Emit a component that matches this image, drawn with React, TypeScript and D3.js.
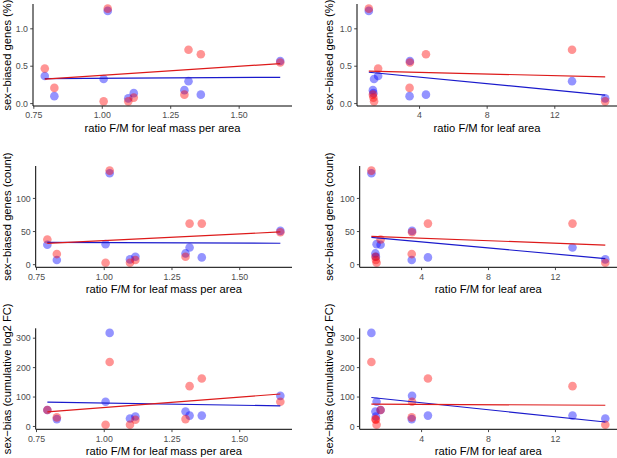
import React from 'react'
import * as d3 from 'd3'

// one entry per species, same order in every array
const lmaRatio = [0.79, 0.825, 1.005, 1.02, 1.095, 1.115, 1.30, 1.315, 1.36, 1.65]
const areaRatio = [1.55, 3.41, 1.31, 1.0, 14.98, 1.27, 1.24, 13.02, 4.38, 3.43]

const pctRed = [0.47, 0.21, 0.03, 1.27, 0.03, 0.08, 0.12, 0.72, 0.66, 0.55]
const pctBlue = [0.37, 0.10, 0.33, 1.24, 0.07, 0.14, 0.18, 0.30, 0.12, 0.57]
const countRed = [38, 16, 3, 142, 3, 7, 12, 62, 62, 49]
const countBlue = [30, 7, 31, 138, 8, 12, 17, 26, 11, 51]
const fcRed = [56, 31, 6, 219, 6, 23, 25, 137, 163, 84]
const fcBlue = [56, 25, 84, 318, 27, 34, 51, 37, 37, 104]

const lmaTicks = [0.75, 1.0, 1.25, 1.5]
const areaTicks = [4, 8, 12]
const pctTicks = [0, 0.5, 1.0]
const countTicks = [0, 50, 100]
const fcTicks = [0, 100, 200, 300]

const lmaLabel = 'ratio F/M for leaf mass per area'
const areaLabel = 'ratio F/M for leaf area'

const W = 617
const H = 458
const font = '"Liberation Sans", Arial, Helvetica, sans-serif'

// ggplot-like 5% padding around the data range
function expanded(values: number[]): [number, number] {
    const [lo, hi] = d3.extent(values) as [number, number]
    const pad = (hi - lo) * 0.05
    return [lo - pad, hi + pad]
}

function fit(xs: number[], ys: number[]) {
    const mx = d3.mean(xs) || 0
    const my = d3.mean(ys) || 0
    const sxy = d3.sum(xs, (x, i) => (x - mx) * (ys[i] - my))
    const sxx = d3.sum(xs, x => (x - mx) * (x - mx))
    const slope = sxy / sxx
    const [x0, x1] = d3.extent(xs) as [number, number]
    return [
        { x: x0, y: my + slope * (x0 - mx) },
        { x: x1, y: my + slope * (x1 - mx) },
    ]
}

interface PanelProps {
    left: number
    right: number
    top: number
    bottom: number
    titleX: number
    xs: number[]
    red: number[]
    blue: number[]
    xTicks: number[]
    yTicks: number[]
    xFmt: (v: number) => string
    yFmt: (v: number) => string
    xTitle: string
    yTitle: string
}

function Panel(p: PanelProps) {
    const x = d3.scaleLinear().domain(expanded(p.xs)).range([p.left, p.right])
    const y = d3.scaleLinear().domain(expanded([...p.red, ...p.blue])).range([p.bottom, p.top])
    const line = d3.line<{ x: number; y: number }>().x(d => x(d.x)).y(d => y(d.y))
    const redFit = fit(p.xs, p.red)
    const blueFit = fit(p.xs, p.blue)
    const r = 4.3

    return (
        <g>
            {p.blue.map((v, i) => (
                <circle key={'b' + i} cx={x(p.xs[i])} cy={y(v)} r={r} fill="#0000ff" fillOpacity={0.42} />
            ))}
            {p.red.map((v, i) => (
                <circle key={'r' + i} cx={x(p.xs[i])} cy={y(v)} r={r} fill="#ff0000" fillOpacity={0.42} />
            ))}
            <path d={line(blueFit) || ''} stroke="#1a1acc" strokeWidth={1.2} fill="none" />
            <path d={line(redFit) || ''} stroke="#dd1a1a" strokeWidth={1.2} fill="none" />

            {/* axes */}
            <line x1={p.left} x2={p.right} y1={p.bottom} y2={p.bottom} stroke="#000" strokeWidth={1} />
            <line x1={p.left} x2={p.left} y1={p.top} y2={p.bottom} stroke="#000" strokeWidth={1} />
            {p.xTicks.map(t => (
                <g key={'xt' + t}>
                    <line x1={x(t)} x2={x(t)} y1={p.bottom} y2={p.bottom + 2.8} stroke="#333" strokeWidth={0.9} />
                    <text x={x(t)} y={p.bottom + 12.3} textAnchor="middle" fontSize={8.8} fill="#4d4d4d" fontFamily={font}>
                        {p.xFmt(t)}
                    </text>
                </g>
            ))}
            {p.yTicks.map(t => (
                <g key={'yt' + t}>
                    <line x1={p.left - 2.8} x2={p.left} y1={y(t)} y2={y(t)} stroke="#333" strokeWidth={0.9} />
                    <text x={p.left - 5} y={y(t) + 3.1} textAnchor="end" fontSize={8.8} fill="#4d4d4d" fontFamily={font}>
                        {p.yFmt(t)}
                    </text>
                </g>
            ))}
            <text x={(p.left + p.right) / 2} y={p.bottom + 26} textAnchor="middle" fontSize={11.2} fill="#000" fontFamily={font}>
                {p.xTitle}
            </text>
            <text
                transform={`translate(${p.titleX},${(p.top + p.bottom) / 2}) rotate(-90)`}
                textAnchor="middle"
                dominantBaseline="central"
                fontSize={11.2}
                fill="#000"
                fontFamily={font}
            >
                {p.yTitle}
            </text>
        </g>
    )
}

const f2 = d3.format('.2f')
const f1 = d3.format('.1f')
const f0 = d3.format('d')

export default function App() {
    const rows = [
        { top: 4, bottom: 106, lefts: [33, 357], red: pctRed, blue: pctBlue, ticks: pctTicks, fmt: f1, title: 'sex\u2212biased genes (%)' },
        { top: 166, bottom: 267.3, lefts: [35.7, 359.7], red: countRed, blue: countBlue, ticks: countTicks, fmt: f0, title: 'sex\u2212biased genes (count)' },
        { top: 328.3, bottom: 429.3, lefts: [35.7, 359.7], red: fcRed, blue: fcBlue, ticks: fcTicks, fmt: f0, title: 'sex\u2212bias (cumulative log2 FC)' },
    ]

    return (
        <svg width={W} height={H} viewBox={`0 0 ${W} ${H}`} style={{ position: 'absolute', left: 0, top: 0, background: '#fff' }}>
            {rows.map((row, ri) => (
                <g key={ri}>
                    <Panel
                        left={row.lefts[0]} right={292} top={row.top} bottom={row.bottom} titleX={7}
                        xs={lmaRatio} red={row.red} blue={row.blue}
                        xTicks={lmaTicks} yTicks={row.ticks} xFmt={f2} yFmt={row.fmt}
                        xTitle={lmaLabel} yTitle={row.title}
                    />
                    <Panel
                        left={row.lefts[1]} right={617} top={row.top} bottom={row.bottom} titleX={328.7}
                        xs={areaRatio} red={row.red} blue={row.blue}
                        xTicks={areaTicks} yTicks={row.ticks} xFmt={f0} yFmt={row.fmt}
                        xTitle={areaLabel} yTitle={row.title}
                    />
                </g>
            ))}
        </svg>
    )
}
